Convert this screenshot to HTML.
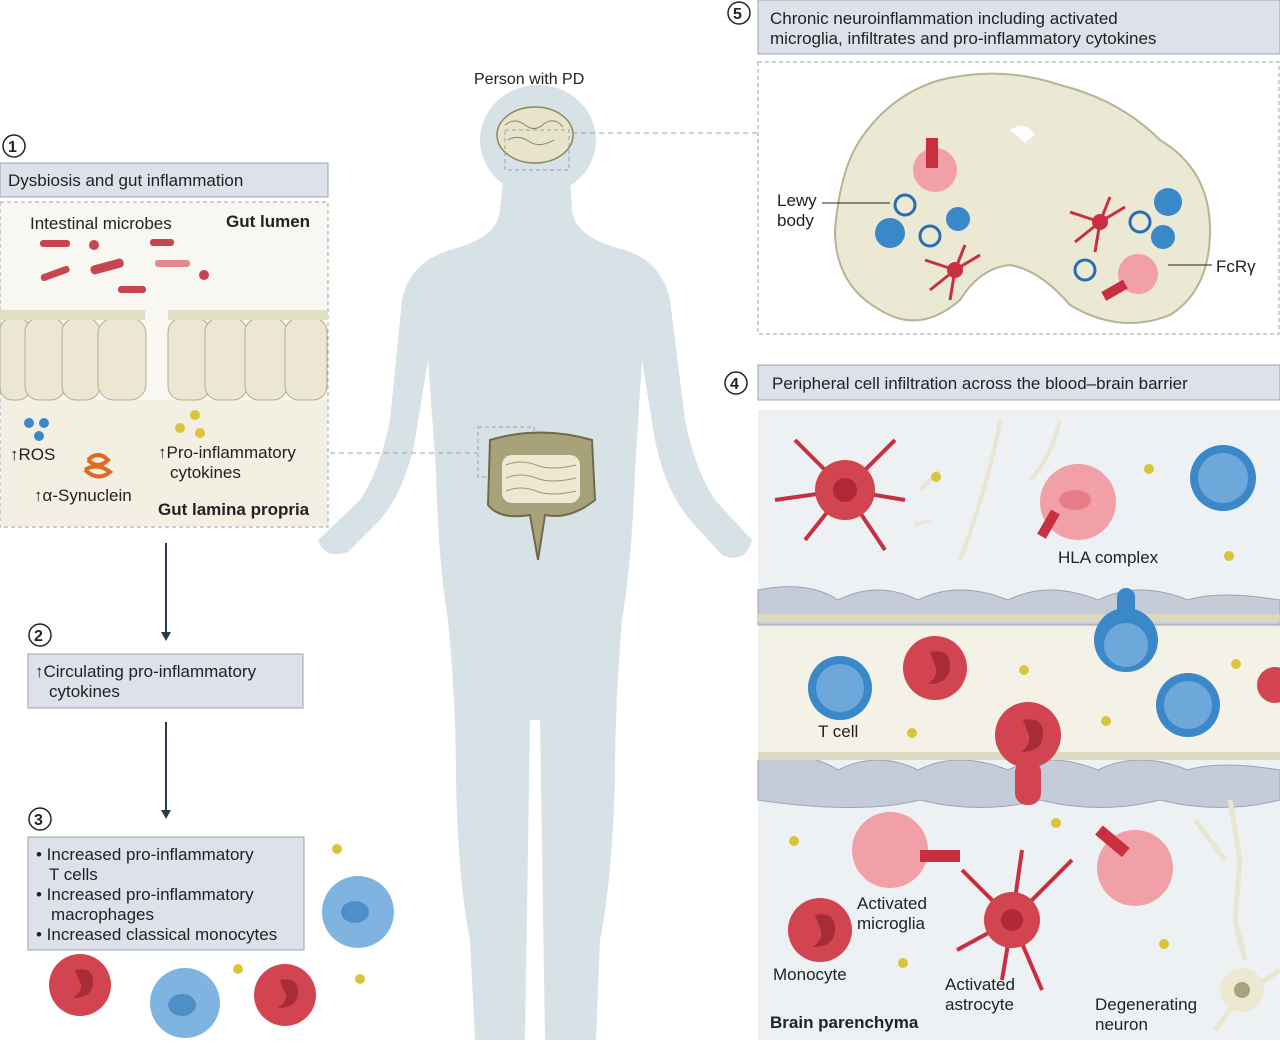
<!DOCTYPE html>
<html><head><meta charset="utf-8"><style>
body{margin:0;background:#fff;}
svg text{font-family:"Liberation Sans",sans-serif;fill:#222;}
</style></head><body>
<svg width="1280" height="1040" viewBox="0 0 1280 1040" xmlns="http://www.w3.org/2000/svg">
<rect width="1280" height="1040" fill="#fff"/>
<!-- person silhouette -->
<g fill="#d6e2e5">
<ellipse cx="538" cy="140" rx="58" ry="55"/>
<path d="M503 180 L570 180 L572 210 Q575 238 625 250 Q662 262 670 300 L685 420 Q695 470 715 500 L752 540 Q745 565 722 555 L690 520 Q665 490 655 440 L642 360 L635 470 Q632 560 622 620 Q615 700 615 780 Q612 880 600 940 L596 1040 L545 1040 L540 720 L530 720 L525 1040 L475 1040 L470 940 Q458 880 456 780 Q456 700 448 620 Q438 560 436 470 L428 360 L415 440 Q405 490 380 520 L348 552 Q325 560 318 540 L360 500 Q380 470 390 420 L402 300 Q410 262 450 250 Q498 238 500 210 Z"/>
</g>
<text x="474" y="84" font-size="16">Person with PD</text>
<!-- brain -->
<ellipse cx="535" cy="135" rx="38" ry="28" fill="#e8e4cc" stroke="#8a8660" stroke-width="1.5"/>
<path d="M505 125 q10 -8 20 0 q10 8 20 -2 q10 -6 18 4 M508 140 q10 -6 22 2 q10 6 24 -2" stroke="#8a8660" fill="none"/>
<rect x="505" y="130" width="64" height="40" fill="none" stroke="#9aa3ad" stroke-dasharray="4 3"/>
<line x1="572" y1="133" x2="758" y2="133" stroke="#9aa3ad" stroke-dasharray="5 4"/>
<!-- gut -->
<rect x="478" y="427" width="56" height="50" fill="none" stroke="#9aa3ad" stroke-dasharray="4 3"/>
<path d="M490 440 Q540 425 592 440 L595 500 Q570 520 545 515 L538 560 L530 515 Q500 520 488 505 Z" fill="#a8a27a" stroke="#6f6a48" stroke-width="2"/>
<rect x="502" y="455" width="78" height="48" rx="10" fill="#ede8d2"/>
<path d="M506 465 q15 -6 30 0 q15 6 40 0 M506 478 q15 -6 30 0 q15 6 40 0 M506 491 q15 -6 30 0 q15 6 40 0" stroke="#9e9870" fill="none"/>
<line x1="330" y1="453" x2="478" y2="453" stroke="#9aa3ad" stroke-dasharray="5 4"/>

<!-- panel 1 -->
<circle cx="14" cy="146" r="11" fill="#fff" stroke="#222" stroke-width="1.5"/><text x="8" y="152" font-size="16" font-weight="bold">1</text>
<rect x="0" y="163" width="328" height="34" fill="#dde1ea" stroke="#9ba3b0"/>
<text x="8" y="186" font-size="17">Dysbiosis and gut inflammation</text>
<rect x="0" y="202" width="328" height="325" fill="#f8f7f2" stroke="#9aa3ad" stroke-dasharray="4 3"/>
<rect x="1" y="400" width="326" height="126" fill="#f3efe2"/>
<g fill="#ebe7d2" stroke="#b4ae8c">
<rect x="0" y="318" width="30" height="82" rx="12"/><rect x="25" y="318" width="40" height="82" rx="14"/><rect x="62" y="318" width="38" height="82" rx="14"/><rect x="98" y="318" width="48" height="82" rx="16"/>
<rect x="168" y="318" width="42" height="82" rx="14"/><rect x="205" y="318" width="42" height="82" rx="14"/><rect x="245" y="318" width="42" height="82" rx="14"/><rect x="285" y="318" width="42" height="82" rx="14"/>
</g>
<rect x="0" y="310" width="145" height="10" fill="#e3dfc4"/><rect x="168" y="310" width="160" height="10" fill="#e3dfc4"/>
<text x="30" y="229" font-size="17">Intestinal microbes</text>
<text x="226" y="227" font-size="17" font-weight="bold">Gut lumen</text>
<g fill="#c84550"><rect x="40" y="240" width="30" height="7" rx="3"/><circle cx="94" cy="245" r="5"/><rect x="150" y="239" width="24" height="7" rx="3"/>
<rect x="90" y="262" width="34" height="9" rx="4" transform="rotate(-15 107 266)"/><rect x="40" y="270" width="30" height="7" rx="3" transform="rotate(-20 55 273)"/><rect x="155" y="260" width="35" height="7" rx="3" fill="#e38a90"/><circle cx="204" cy="275" r="5"/><rect x="118" y="286" width="28" height="7" rx="3"/></g>
<g fill="#3b88c9"><circle cx="29" cy="423" r="5"/><circle cx="44" cy="423" r="5"/><circle cx="39" cy="436" r="5"/></g>
<text x="10" y="460" font-size="17">↑ROS</text>
<path d="M88 460 q10 -10 20 0 q-10 10 -20 0 M85 470 q12 -8 25 2 q-12 10 -25 -2" stroke="#e06a20" stroke-width="4" fill="none"/>
<text x="34" y="501" font-size="17">↑α-Synuclein</text>
<g fill="#d9c43a"><circle cx="195" cy="415" r="5"/><circle cx="180" cy="428" r="5"/><circle cx="200" cy="433" r="5"/></g>
<text x="158" y="458" font-size="17">↑Pro-inflammatory</text>
<text x="170" y="478" font-size="17">cytokines</text>
<text x="158" y="515" font-size="17" font-weight="bold">Gut lamina propria</text>
<line x1="166" y1="543" x2="166" y2="635" stroke="#2b3a4a" stroke-width="2"/><path d="M161 632 L166 641 L171 632Z" fill="#2b3a4a"/>
<!-- panel 2 -->
<circle cx="40" cy="635" r="11" fill="#fff" stroke="#222" stroke-width="1.5"/><text x="34" y="641" font-size="16" font-weight="bold">2</text>
<rect x="28" y="654" width="275" height="54" fill="#dde1ea" stroke="#9ba3b0"/>
<text x="35" y="677" font-size="17">↑Circulating pro-inflammatory</text>
<text x="49" y="697" font-size="17">cytokines</text>
<line x1="166" y1="722" x2="166" y2="813" stroke="#2b3a4a" stroke-width="2"/><path d="M161 810 L166 819 L171 810Z" fill="#2b3a4a"/>
<!-- panel 3 -->
<circle cx="40" cy="819" r="11" fill="#fff" stroke="#222" stroke-width="1.5"/><text x="34" y="825" font-size="16" font-weight="bold">3</text>
<rect x="28" y="837" width="276" height="113" fill="#dde1ea" stroke="#9ba3b0"/>
<text x="36" y="860" font-size="17">• Increased pro-inflammatory</text>
<text x="49" y="880" font-size="17">T cells</text>
<text x="36" y="900" font-size="17">• Increased pro-inflammatory</text>
<text x="51" y="920" font-size="17">macrophages</text>
<text x="36" y="940" font-size="17">• Increased classical monocytes</text>
<g><circle cx="80" cy="985" r="31" fill="#d24550"/><path d="M75 970 q18 -4 18 12 q0 16 -20 16 q10 -8 8 -14 q-4 -6 -6 -14" fill="#a82c38"/>
<circle cx="285" cy="995" r="31" fill="#d24550"/><path d="M280 980 q18 -4 18 12 q0 16 -20 16 q10 -8 8 -14 q-4 -6 -6 -14" fill="#a82c38"/>
<circle cx="185" cy="1003" r="35" fill="#7fb4e0"/><ellipse cx="182" cy="1005" rx="14" ry="11" fill="#4f8fc7"/>
<circle cx="358" cy="912" r="36" fill="#7fb4e0"/><ellipse cx="355" cy="912" rx="14" ry="11" fill="#4f8fc7"/></g>
<g fill="#d9c43a"><circle cx="337" cy="849" r="5"/><circle cx="238" cy="969" r="5"/><circle cx="360" cy="979" r="5"/></g>

<!-- panel 5 -->
<circle cx="739" cy="13" r="11" fill="#fff" stroke="#222" stroke-width="1.5"/><text x="733" y="19" font-size="16" font-weight="bold">5</text>
<rect x="758" y="0" width="522" height="54" fill="#dde1ea" stroke="#9ba3b0"/>
<text x="770" y="24" font-size="17">Chronic neuroinflammation including activated</text>
<text x="770" y="44" font-size="17">microglia, infiltrates and pro-inflammatory cytokines</text>
<rect x="758" y="62" width="521" height="272" fill="#fff" stroke="#9aa3ad" stroke-dasharray="4 3"/>
<path d="M940 80 Q1000 65 1060 85 Q1120 100 1160 140 Q1210 170 1210 230 Q1210 290 1170 315 Q1120 335 1070 305 Q1040 270 1010 265 Q980 268 960 300 Q920 335 880 310 Q835 285 835 230 Q840 170 860 140 Q890 95 940 80Z" fill="#ebe8d4" stroke="#b7b395" stroke-width="2"/>
<path d="M1010 130 q15 -10 25 5 l-10 8 q-5 -5 -15 -13" fill="#fff"/>
<line x1="822" y1="203" x2="890" y2="203" stroke="#222"/>
<text x="777" y="206" font-size="17">Lewy</text><text x="777" y="226" font-size="17">body</text>
<g fill="#3b88c9"><circle cx="890" cy="233" r="15"/><circle cx="958" cy="219" r="12"/><circle cx="1168" cy="202" r="14"/><circle cx="1163" cy="237" r="12"/></g>
<g fill="none" stroke="#2a6db0" stroke-width="3"><circle cx="905" cy="205" r="10"/><circle cx="930" cy="236" r="10"/><circle cx="1140" cy="222" r="10"/><circle cx="1085" cy="270" r="10"/></g>
<g fill="#f0a0a6"><circle cx="935" cy="170" r="22"/><circle cx="1138" cy="274" r="20"/></g>
<g fill="#c83040"><rect x="926" y="138" width="12" height="30"/><rect x="1102" y="285" width="25" height="10" transform="rotate(-30 1115 290)"/></g>
<g stroke="#c83040" stroke-width="3"><path d="M955 270 l-30 -10 M955 270 l25 -15 M955 270 l-5 30 M955 270 l-25 20 M955 270 l10 -25"/><path d="M1100 222 l-30 -10 M1100 222 l25 -15 M1100 222 l-5 30 M1100 222 l-25 20 M1100 222 l10 -25"/></g>
<circle cx="955" cy="270" r="8" fill="#c83040"/><circle cx="1100" cy="222" r="8" fill="#c83040"/>
<line x1="1168" y1="265" x2="1212" y2="265" stroke="#222"/><text x="1216" y="272" font-size="17">FcRγ</text>

<!-- panel 4 -->
<circle cx="736" cy="383" r="11" fill="#fff" stroke="#222" stroke-width="1.5"/><text x="730" y="389" font-size="16" font-weight="bold">4</text>
<rect x="758" y="365" width="522" height="35" fill="#dde1ea" stroke="#9ba3b0"/>
<text x="772" y="389" font-size="17">Peripheral cell infiltration across the blood–brain barrier</text>
<rect x="758" y="410" width="522" height="630" fill="#eef1f4"/>
<rect x="758" y="620" width="522" height="135" fill="#f4f1e6"/>
<g fill="#c5ccd8" stroke="#9aa4b6">
<path d="M758 590 q50 -10 80 10 q40 -20 80 0 q40 -20 90 0 q40 -20 90 0 q40 -20 90 0 q30 -10 92 0 v25 H758Z"/>
<path d="M758 760 q50 -10 80 10 q40 -20 80 0 q40 -20 90 0 q40 -20 90 0 q40 -20 90 0 q30 -10 92 0 v30 q-60 15 -120 0 q-60 15 -120 0 q-60 15 -120 0 q-60 15 -162 0Z"/>
</g>
<rect x="758" y="614" width="522" height="8" fill="#dcd9c0"/><rect x="758" y="752" width="522" height="8" fill="#dcd9c0"/>
<path d="M1060 420 q-10 40 -30 60 M1000 420 q-10 60 -40 140 M940 470 l-20 20 M930 520 l-15 5" stroke="#e8e5d0" stroke-width="4" fill="none"/>
<g stroke="#c83040" stroke-width="4" fill="none"><path d="M845 490 l-50 -50 M845 490 l50 -50 M845 490 l-70 10 M845 490 l-40 50 M845 490 l40 60 M845 490 l60 10"/>
<path d="M1012 920 l-50 -50 M1012 920 l60 -60 M1012 920 l-55 30 M1012 920 l30 70 M1012 920 l-10 60 M1012 920 l10 -70"/></g>
<circle cx="845" cy="490" r="30" fill="#d24550"/><circle cx="845" cy="490" r="12" fill="#b02838"/>
<circle cx="1012" cy="920" r="28" fill="#d24550"/><circle cx="1012" cy="920" r="11" fill="#b02838"/>
<circle cx="1078" cy="502" r="38" fill="#f0a0a6"/><ellipse cx="1075" cy="500" rx="16" ry="10" fill="#e77e88"/>
<rect x="1035" y="520" width="28" height="10" fill="#c83040" transform="rotate(-60 1048 525)"/>
<text x="1058" y="563" font-size="17">HLA complex</text>
<circle cx="890" cy="850" r="38" fill="#f0a0a6"/><rect x="920" y="850" width="40" height="12" fill="#c83040"/>
<circle cx="1135" cy="868" r="38" fill="#f0a0a6"/><rect x="1095" y="835" width="35" height="12" fill="#c83040" transform="rotate(40 1112 841)"/>
<g fill="#3b88c9"><circle cx="1223" cy="478" r="33"/><circle cx="840" cy="688" r="32"/><circle cx="1188" cy="705" r="32"/><ellipse cx="1126" cy="640" rx="32" ry="32"/><rect x="1117" y="588" width="18" height="40" rx="9"/></g>
<g fill="#6ea8da"><circle cx="1223" cy="478" r="25"/><circle cx="840" cy="688" r="24"/><circle cx="1188" cy="705" r="24"/><circle cx="1126" cy="645" r="22"/></g>
<g fill="#d24550"><circle cx="935" cy="668" r="32"/><circle cx="1275" cy="685" r="18"/><circle cx="820" cy="930" r="32"/><circle cx="1028" cy="735" r="33"/><rect x="1015" y="760" width="26" height="45" rx="12"/></g>
<g fill="#a82c38"><path d="M930 652 q20 -4 20 14 q0 18 -22 18 q10 -8 8 -16z"/><path d="M815 915 q20 -4 20 14 q0 18 -22 18 q10 -8 8 -16z"/><path d="M1023 720 q20 -4 20 14 q0 18 -22 18 q10 -8 8 -16z"/></g>
<g fill="#d9c43a"><circle cx="936" cy="477" r="5"/><circle cx="1149" cy="469" r="5"/><circle cx="1229" cy="556" r="5"/><circle cx="1024" cy="670" r="5"/><circle cx="1236" cy="664" r="5"/><circle cx="1106" cy="721" r="5"/><circle cx="912" cy="733" r="5"/><circle cx="794" cy="841" r="5"/><circle cx="1056" cy="823" r="5"/><circle cx="1164" cy="944" r="5"/><circle cx="903" cy="963" r="5"/></g>
<path d="M1230 800 l10 60 l-5 60 l10 40 M1195 820 l30 40 M1245 990 l-30 40 M1250 990 l30 -20" stroke="#e8e5d0" stroke-width="5" fill="none"/>
<circle cx="1242" cy="990" r="22" fill="#ede8d2"/><circle cx="1242" cy="990" r="8" fill="#a8a27a"/>
<text x="818" y="737" font-size="17">T cell</text>
<text x="857" y="909" font-size="17">Activated</text><text x="857" y="929" font-size="17">microglia</text>
<text x="773" y="980" font-size="17">Monocyte</text>
<text x="945" y="990" font-size="17">Activated</text><text x="945" y="1010" font-size="17">astrocyte</text>
<text x="1095" y="1010" font-size="17">Degenerating</text><text x="1095" y="1030" font-size="17">neuron</text>
<text x="770" y="1028" font-size="17" font-weight="bold">Brain parenchyma</text>
</svg>
</body></html>
